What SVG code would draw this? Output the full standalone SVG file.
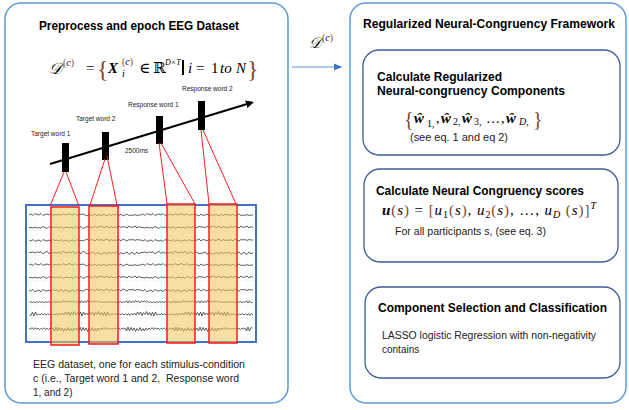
<svg xmlns="http://www.w3.org/2000/svg" xmlns:xlink="http://www.w3.org/1999/xlink" width="629" height="410" viewBox="0 0 629 410">
<style>
.panel{fill:#fff;stroke:#5B9BD5;stroke-width:1.5}
.box{fill:#fff;stroke:#3E5C96;stroke-width:1.3}
.s{font-family:"Liberation Sans",Arial,sans-serif;fill:#000}
.h{font-weight:bold;font-size:12.5px}
.b{font-size:10px;fill:#222}
.lbl{font-size:6.5px;fill:#222}
.m{font-family:"Liberation Serif","DejaVu Serif",serif;fill:#000}
.it{font-style:italic}
.bi{font-style:italic;font-weight:bold}
.br{fill:#7A4636}
.wave{fill:none;stroke:#3a3a3a;stroke-width:0.8}
.hl{fill:#F3C65A;fill-opacity:0.55;stroke:#FF1A1A;stroke-width:1.5}
.red{stroke:#FF2020;stroke-width:1;fill:none}
.bar{fill:#000}
</style>
<defs>
<marker id="ah" markerWidth="8" markerHeight="8" refX="6" refY="4" orient="auto" markerUnits="userSpaceOnUse"><path d="M0,0 L8,4 L0,8 z" fill="#000"/></marker>
<marker id="ahb" markerWidth="8" markerHeight="8" refX="7" refY="4" orient="auto" markerUnits="userSpaceOnUse"><path d="M0,0.5 L8,4 L0,7.5 z" fill="#4472C4"/></marker>
<pattern id="grid" patternUnits="userSpaceOnUse" x="26" y="205" width="9.2" height="12.5"><path d="M0,0 V12.5 M0,0 H9.2" stroke="#e9e9e9" stroke-width="0.6" fill="none"/></pattern>
<path id="w1" class="wave" vector-effect="non-scaling-stroke" d="M0,0 l2,-1 2,1.5 2,-2 2,1 2,.5 2,-1.5 2,2 2,-1 2,-.5 2,1 2,-1.5 2,2 2,-1 2,.5 2,-1 2,1.5 2,-2 2,1.5 2,-.5 2,-1 2,1 2,.5 2,-1.5 2,2 2,-1 2,0 2,-.5 2,1 2,1 2,-2 2,1.5 2,-.5 2,-1 2,2 2,-1.5 2,1 2,-1 2,.5 2,1 2,-2 2,1.5 2,-1 2,.5 2,-.5 2,1 2,-1.5 2,2 2,-1 2,-1 2,1.5 2,-.5 2,.5 2,-1 2,1 2,-.5 2,0 2,-1 2,1.5 2,-2 2,1 2,.5 2,-1.5 2,2 2,-1 2,-.5 2,1 2,-1.5 2,2 2,-1 2,.5 2,-1 2,1.5 2,-2 2,1.5 2,-.5 2,-1 2,1 2,.5 2,-1.5 2,2 2,-1 2,0 2,-.5 2,1 2,1 2,-2 2,1.5 2,-.5 2,-1 2,2 2,-1.5 2,1 2,-1 2,.5 2,1 2,-2 2,1.5 2,-1 2,.5 2,-.5 2,1 2,-1.5 2,2 2,-1 2,-1 2,1.5 2,-.5 2,.5 2,-1 2,1 2,-.5 2,0"/>
<path id="w2" class="wave" vector-effect="non-scaling-stroke" d="M0,0 l1.5,-1.5 1.5,2 1.5,-2 1.5,1.75 1.5,-1.5 1.5,1.25 1.5,-1.75 1.5,1.5 1.5,-1 1.5,1.5 1.5,-1.75 1.5,1.25 1.5,-1.25 1.5,1.5 1.5,-1 1.5,1 1.5,-3 1.5,4 1.5,-4 1.5,3.5 1.5,-3 1.5,2.5 1.5,-3.5 1.5,3 1.5,-2 1.5,3 1.5,-3.5 1.5,2.5 1.5,-2.5 1.5,3 1.5,-2 1.5,2 1.5,-3 1.5,4 1.5,-4 1.5,3.5 1.5,-3 1.5,2.5 1.5,-3.5 1.5,3 1.5,-2 1.5,3 1.5,-3.5 1.5,2.5 1.5,-2.5 1.5,3 1.5,-2 1.5,2 1.5,-1.5 1.5,2 1.5,-2 1.5,1.75 1.5,-1.5 1.5,1.25 1.5,-1.75 1.5,1.5 1.5,-1 1.5,1.5 1.5,-1.75 1.5,1.25 1.5,-1.25 1.5,1.5 1.5,-1 1.5,1 1.5,-3 1.5,4 1.5,-4 1.5,3.5 1.5,-3 1.5,2.5 1.5,-3.5 1.5,3 1.5,-2 1.5,3 1.5,-3.5 1.5,2.5 1.5,-2.5 1.5,3 1.5,-2 1.5,2 1.5,-1.5 1.5,2 1.5,-2 1.5,1.75 1.5,-1.5 1.5,1.25 1.5,-1.75 1.5,1.5 1.5,-1 1.5,1.5 1.5,-1.75 1.5,1.25 1.5,-1.25 1.5,1.5 1.5,-1 1.5,1 1.5,-3 1.5,4 1.5,-4 1.5,3.5 1.5,-3 1.5,2.5 1.5,-3.5 1.5,3 1.5,-2 1.5,3 1.5,-3.5 1.5,2.5 1.5,-2.5 1.5,3 1.5,-2 1.5,2 1.5,-3 1.5,4 1.5,-4 1.5,3.5 1.5,-3 1.5,2.5 1.5,-3.5 1.5,3 1.5,-2 1.5,3 1.5,-3.5 1.5,2.5 1.5,-2.5 1.5,3 1.5,-2 1.5,2 1.5,-1.5 1.5,2 1.5,-2 1.5,1.75 1.5,-1.5 1.5,1.25 1.5,-1.75 1.5,1.5 1.5,-1 1.5,1.5 1.5,-1.75 1.5,1.25 1.5,-1.25 1.5,1.5 1.5,-1 1.5,1 1.5,-3 1.5,4 1.5,-4 1.5,3.5 1.5,-0.5"/>
</defs>

<g id="preprocess-panel">
<rect class="panel" x="5" y="3" width="283" height="400" rx="16"/>
<text class="s h" x="39" y="30" textLength="200" lengthAdjust="spacingAndGlyphs" font-size="14">Preprocess and epoch EEG Dataset</text>
<g id="dataset-formula" class="m">
<text x="49" y="74" font-size="16" class="it">𝒟</text>
<text x="63" y="66" font-size="10"><tspan class="br">(</tspan><tspan class="it">c</tspan><tspan class="br">)</tspan></text>
<text x="86" y="73" font-size="15">=</text>
<text x="97" y="77" font-size="24" class="br">{</text>
<text x="108" y="73" font-size="15" class="bi">X</text>
<text x="122" y="65" font-size="10"><tspan class="br">(</tspan><tspan class="it">c</tspan><tspan class="br">)</tspan></text>
<text x="122" y="77" font-size="10" class="it">i</text>
<text x="139" y="73" font-size="15">∈</text>
<text x="153" y="73" font-size="15">ℝ</text>
<text x="165" y="65" font-size="8" class="it">D×T</text>
<rect x="182" y="60" width="2" height="15" fill="#000"/>
<text x="188" y="73" font-size="15" class="it">i</text>
<text x="196" y="73" font-size="15">=</text>
<text x="211" y="73" font-size="15">1</text>
<text x="220" y="73" font-size="15" class="it">to</text>
<text x="236" y="73" font-size="15" class="it">N</text>
<text x="247" y="77" font-size="24" class="br">}</text>
</g>
<g id="timeline">
<line x1="50" y1="164" x2="252" y2="102.5" stroke="#000" stroke-width="2" marker-end="url(#ah)"/>
<rect class="bar" x="62" y="143" width="7" height="29"/>
<rect class="bar" x="102" y="132" width="7" height="28"/>
<rect class="bar" x="156" y="116" width="7" height="28"/>
<rect class="bar" x="198" y="101" width="7" height="29"/>
<text class="s lbl" x="31" y="135.5">Target word 1</text>
<text class="s lbl" x="76" y="120.5">Target word 2</text>
<text class="s lbl" x="128" y="106.5">Response word 1</text>
<text class="s lbl" x="182" y="90.5">Response word 2</text>
<text class="s lbl" x="125" y="152.5">2500ms</text>
</g>
<g id="eeg-data">
<rect x="26" y="205" width="230" height="137" fill="#fff"/>
<rect x="26" y="205" width="230" height="137" fill="url(#grid)"/>
<use xlink:href="#w1" href="#w1" transform="translate(29,215)"/>
<use xlink:href="#w1" href="#w1" transform="translate(253,227.5) scale(-1,1)"/>
<use xlink:href="#w1" href="#w1" transform="translate(29,240) scale(1,-1)"/>
<use xlink:href="#w1" href="#w1" transform="translate(253,252.5) scale(-1,-1.3)"/>
<use xlink:href="#w1" href="#w1" transform="translate(29,265)"/>
<use xlink:href="#w1" href="#w1" transform="translate(253,277.5) scale(-1,1)"/>
<use xlink:href="#w1" href="#w1" transform="translate(29,290) scale(1,-1.2)"/>
<use xlink:href="#w2" href="#w2" transform="translate(29,302.5) scale(1,0.6)"/>
<use xlink:href="#w2" href="#w2" transform="translate(253,315) scale(-1,1)"/>
<use xlink:href="#w2" href="#w2" transform="translate(29,328) scale(1,-1)"/>
<rect x="26" y="205" width="230" height="137" fill="none" stroke="#4472C4" stroke-width="2"/>
<rect class="hl" x="51" y="207" width="28" height="138"/>
<rect class="hl" x="89" y="206" width="29" height="138"/>
<rect class="hl" x="167" y="204" width="28" height="139"/>
<rect class="hl" x="209" y="204" width="28" height="139"/>
</g>
<text class="s b" x="33" y="368" textLength="212" lengthAdjust="spacingAndGlyphs">EEG dataset, one for each stimulus-condition</text>
<text class="s b" x="33" y="382" textLength="206" lengthAdjust="spacingAndGlyphs" xml:space="preserve">c (i.e., Target word 1 and 2,  Response word</text>
<text class="s b" x="33" y="396">1, and 2)</text>
</g>

<g id="framework-panel">
<rect class="panel" x="350" y="3" width="276" height="400" rx="16"/>
<text class="s h" x="363" y="28" textLength="252" lengthAdjust="spacingAndGlyphs">Regularized Neural-Congruency Framework</text>
</g>

<g id="components-box">
<rect class="box" x="363" y="50" width="257" height="105" rx="16"/>
<text class="s h" x="377" y="81" textLength="125" lengthAdjust="spacingAndGlyphs">Calculate Regularized</text>
<text class="s h" x="377" y="95" textLength="188" lengthAdjust="spacingAndGlyphs">Neural-congruency Components</text>
<g class="m">
<text x="404" y="126" font-size="20" class="br">{</text>
<text x="414" y="123" font-size="15" class="bi">ŵ</text>
<text x="427" y="127" font-size="10">1,</text>
<text x="436" y="123" font-size="14">,</text>
<text x="441" y="123" font-size="15" class="bi">ŵ</text>
<text x="453" y="125" font-size="10">2,</text>
<text x="462" y="123" font-size="15" class="bi">ŵ</text>
<text x="474" y="125" font-size="10">3,</text>
<text x="486" y="123" font-size="14">…</text>
<text x="501" y="123" font-size="14">,</text>
<text x="506" y="123" font-size="15" class="bi">ŵ</text>
<text x="519" y="125" font-size="10" class="it">D,</text>
<text x="533" y="126" font-size="20" class="br">}</text>
</g>
<text class="s b" x="410" y="141" textLength="98" lengthAdjust="spacingAndGlyphs">(see eq. 1 and eq 2)</text>
</g>

<g id="scores-box">
<rect class="box" x="364" y="169" width="254" height="93" rx="16"/>
<text class="s h" x="376" y="195" textLength="208" lengthAdjust="spacingAndGlyphs">Calculate Neural Congruency scores</text>
<text class="m" x="382" y="215" font-size="15" textLength="214" lengthAdjust="spacing"><tspan class="bi">u</tspan><tspan class="br">(</tspan><tspan class="it">s</tspan><tspan class="br">)</tspan> = <tspan class="br">[</tspan><tspan class="it">u</tspan><tspan font-size="10" dy="3">1</tspan><tspan class="br" dy="-3">(</tspan><tspan class="it">s</tspan><tspan class="br">)</tspan>, <tspan class="it">u</tspan><tspan font-size="10" dy="3">2</tspan><tspan class="br" dy="-3">(</tspan><tspan class="it">s</tspan><tspan class="br">)</tspan>, …, <tspan class="it">u</tspan><tspan font-size="10" dy="3" class="it">D</tspan><tspan class="br" dy="-3"> (</tspan><tspan class="it">s</tspan><tspan class="br">)]</tspan><tspan font-size="10" dy="-6" class="it">T</tspan></text>
<text class="s b" x="395" y="235" textLength="151" lengthAdjust="spacingAndGlyphs">For all participants s, (see eq. 3)</text>
</g>

<g id="classification-box">
<rect class="box" x="365" y="287" width="255" height="91" rx="16"/>
<text class="s h" x="378" y="312" textLength="229" lengthAdjust="spacingAndGlyphs">Component Selection and Classification</text>
<text class="s b" x="382" y="339" textLength="214" lengthAdjust="spacingAndGlyphs">LASSO logistic Regression with non-negativity</text>
<text class="s b" x="382" y="353">contains</text>
</g>

<g id="connectors">
<line x1="292" y1="67" x2="341" y2="67" stroke="#5B9BD5" stroke-width="1.2" marker-end="url(#ahb)"/>
<g class="m">
<text x="309" y="48" font-size="15" class="it">𝒟</text>
<text x="322" y="41" font-size="10"><tspan class="br">(</tspan><tspan class="it">c</tspan><tspan class="br">)</tspan></text>
</g>
<line class="red" x1="64" y1="172" x2="50" y2="206"/>
<line class="red" x1="66" y1="172" x2="79" y2="206"/>
<line class="red" x1="105" y1="159" x2="90" y2="205"/>
<line class="red" x1="107" y1="156" x2="117" y2="205"/>
<line class="red" x1="159" y1="143" x2="167" y2="204"/>
<line class="red" x1="161" y1="143" x2="195" y2="204"/>
<line class="red" x1="201" y1="130" x2="209" y2="204"/>
<line class="red" x1="203" y1="130" x2="236" y2="204"/>
</g>
</svg>
